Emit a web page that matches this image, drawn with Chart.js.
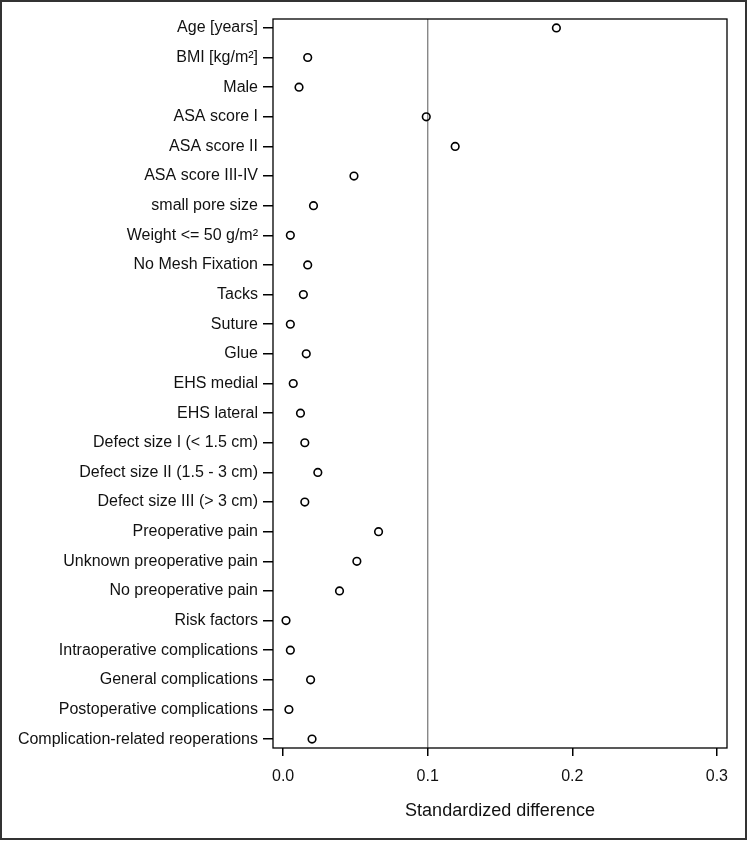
<!DOCTYPE html>
<html>
<head>
<meta charset="utf-8">
<script src="https://cdn.jsdelivr.net/npm/chart.js@4"></script>
<style>
  html, body { margin: 0; padding: 0; background: #fff; }
  #wrap { width: 748px; height: 841px; }
</style>
</head>
<body>
<div id="wrap"><canvas id="chartDiff" width="748" height="841"></canvas></div>
<script>
const categories = [
  'Age [years]',
  'BMI [kg/m²]',
  'Male',
  'ASA score I',
  'ASA score II',
  'ASA score III-IV',
  'small pore size',
  'Weight <= 50 g/m²',
  'No Mesh Fixation',
  'Tacks',
  'Suture',
  'Glue',
  'EHS medial',
  'EHS lateral',
  'Defect size I (< 1.5 cm)',
  'Defect size II (1.5 - 3 cm)',
  'Defect size III (> 3 cm)',
  'Preoperative pain',
  'Unknown preoperative pain',
  'No preoperative pain',
  'Risk factors',
  'Intraoperative complications',
  'General complications',
  'Postoperative complications',
  'Complication-related reoperations',
];

const stdDiff = [
  0.189, 0.017, 0.011, 0.099, 0.119, 0.049, 0.021, 0.005, 0.017, 0.014,
  0.005, 0.016, 0.007, 0.012, 0.015, 0.024, 0.015, 0.066, 0.051, 0.039,
  0.002, 0.005, 0.019, 0.004, 0.020,
];

const xTicks = [0, 0.1, 0.2, 0.3];
const refLine = 0.1;

const FONT = '"Liberation Sans", Arial, sans-serif';

// outer frame + plot box
const framePlugin = {
  id: 'frame',
  afterDraw: (chart) => {
    const { ctx, chartArea } = chart;
    ctx.save();
    ctx.strokeStyle = '#000';
    ctx.lineWidth = 1.3;
    ctx.strokeRect(chartArea.left, chartArea.top,
      chartArea.right - chartArea.left, chartArea.bottom - chartArea.top);
    ctx.strokeStyle = '#333';
    ctx.lineWidth = 2;
    ctx.strokeRect(1, 1, 745, 838);
    ctx.restore();
  },
};

const chartDiff = document.querySelector('#chartDiff');

new Chart(chartDiff, {
  type: 'scatter',
  data: {
    datasets: [
      {
        label: 'Standardized difference',
        data: stdDiff.map((v, i) => ({ x: v, y: i })),
        pointRadius: 3.8,
        pointHoverRadius: 3.8,
        pointBorderWidth: 1.6,
        borderColor: '#000',
        backgroundColor: 'rgba(0,0,0,0)',
        order: 1,
      },
      {
        type: 'line',
        label: 'ref',
        data: [{ x: refLine, y: -0.3 }, { x: refLine, y: categories.length - 0.7 }],
        borderColor: '#888',
        borderWidth: 1.4,
        pointRadius: 0,
        order: 2,
      },
    ],
  },
  options: {
    responsive: false,
    animation: false,
    layout: { padding: { top: 19, right: 21, left: 0, bottom: 0 } },
    plugins: {
      legend: { display: false },
      tooltip: { enabled: false },
    },
    scales: {
      x: {
        type: 'linear',
        min: -0.007,
        max: 0.307,
        afterBuildTicks: (scale) => {
          scale.ticks = xTicks.map((v) => ({ value: v }));
        },
        afterFit: (scale) => {
          scale.height = 93;
        },
        border: { display: false },
        grid: {
          drawOnChartArea: false,
          drawTicks: true,
          tickLength: 8,
          tickColor: '#000',
          lineWidth: 1.5,
        },
        ticks: {
          padding: 11,
          color: '#111',
          font: { family: FONT, size: 16 },
          callback: (v) => Number(v).toFixed(1),
        },
        title: {
          display: true,
          text: 'Standardized difference',
          color: '#111',
          font: { family: FONT, size: 18 },
          padding: { top: 0, bottom: 19 },
        },
      },
      y: {
        type: 'linear',
        reverse: true,
        min: -0.3,
        max: categories.length - 0.7,
        afterBuildTicks: (scale) => {
          scale.ticks = categories.map((_, i) => ({ value: i }));
        },
        afterFit: (scale) => {
          scale.width = 273;
        },
        border: { display: false },
        grid: {
          drawOnChartArea: false,
          drawTicks: true,
          tickLength: 10,
          tickColor: '#000',
          lineWidth: 1.5,
        },
        ticks: {
          padding: 5,
          autoSkip: false,
          color: '#111',
          font: { family: FONT, size: 16 },
          callback: (v) => categories[v],
        },
      },
    },
  },
  plugins: [framePlugin],
});
</script>
</body>
</html>
